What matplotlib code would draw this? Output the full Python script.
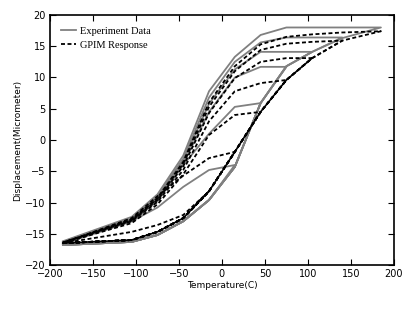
import matplotlib
matplotlib.use('Agg')
import matplotlib.pyplot as plt

# temperature grid (C), heating direction; cooling uses the reverse
temp_up = [-185, -105, -75, -45, -15, 15, 45, 75, 105, 140, 185]
temp_down = temp_up[::-1]

# experiment data (micrometer)
exp_up = [-16.8, -16.3, -15.2, -13.0, -9.6, -4.3, 5.9, 11.8, 14.1, 16.3, 18.0]
exp_down_185 = [18.0, 18.0, 18.0, 18.0, 16.8, 13.3, 7.8, -2.5, -8.7, -12.3, -16.2]
exp_down_140 = [16.4, 16.4, 16.4, 15.6, 12.5, 6.8, -3.0, -9.0, -12.5, -16.3]
exp_down_105 = [14.1, 14.1, 14.1, 11.3, 5.8, -3.3, -9.2, -12.7, -16.4]
exp_down_75 = [11.7, 11.7, 10.0, 4.5, -3.8, -9.5, -12.9, -16.5]
exp_down_45 = [5.9, 5.3, 1.0, -4.0, -9.8, -13.0, -16.6]
exp_down_15 = [-4.0, -4.8, -7.5, -10.8, -13.0, -16.6]

# GPIM response
mod_up = [-16.5, -16.0, -14.7, -12.5, -8.2, -1.9, 4.5, 9.6, 13.1, 15.9, 17.4]
mod_down_185 = [17.4, 17.2, 16.9, 16.5, 15.3, 11.8, 6.0, -3.5, -9.3, -12.7, -16.4]
mod_down_140 = [15.9, 15.7, 15.4, 14.4, 11.0, 5.3, -3.8, -9.4, -12.8, -16.4]
mod_down_105 = [13.1, 13.1, 12.5, 9.9, 4.3, -4.2, -9.6, -12.9, -16.4]
mod_down_75 = [9.6, 9.1, 7.8, 3.0, -4.8, -9.9, -13.0, -16.4]
mod_down_45 = [4.5, 4.0, 0.8, -5.5, -10.3, -13.3, -16.5]
mod_down_15 = [-1.9, -2.9, -5.7, -9.0, -12.5, -16.5]
mod_down_m15 = [-8.2, -12.0, -13.6, -14.7, -16.5]

exp_downs = [exp_down_185, exp_down_140, exp_down_105, exp_down_75, exp_down_45, exp_down_15]
mod_downs = [mod_down_185, mod_down_140, mod_down_105, mod_down_75, mod_down_45, mod_down_15, mod_down_m15]


def loop(up, down):
    # heat from -185 up to the turning point, then cool back to -185
    n = len(down) - 1
    return temp_up[:n] + temp_down[-len(down):], up[:n] + down


fig = plt.figure(figsize=(4.15, 3.12), dpi=100)
ax = fig.add_axes([0.1205, 0.1506, 0.8285, 0.8014])

grey = '#808080'
dash = (0, (2.2, 1.4))
for i, d in enumerate(exp_downs):
    x, y = loop(exp_up, d)
    ax.plot(x, y, color=grey, lw=1.3, label='Experiment Data' if i == 0 else None)

ax.plot(temp_up[:9], mod_up[:9], color='k', lw=1.2)
for i, d in enumerate(mod_downs):
    x, y = loop(mod_up, d)
    ax.plot(x, y, color='k', lw=1.3, linestyle=dash, label='GPIM Response' if i == 0 else None)

ax.set_xlim(-200, 200)
ax.set_ylim(-20, 20)
ax.set_xticks(range(-200, 201, 50))
ax.set_yticks(range(-20, 21, 5))
ax.tick_params(direction='in', top=True, right=True, length=4, width=0.8, labelsize=7, pad=3)
for s in ax.spines.values():
    s.set_linewidth(1.2)
ax.set_xlabel('Temperature(C)', fontsize=6.5, labelpad=1)
ax.set_ylabel('Displacement(Micrometer)', fontsize=6.5, labelpad=2)

ax.legend(loc='upper left', frameon=False, prop={'family': 'Liberation Serif', 'size': 7.5},
          handlelength=1.4, handletextpad=0.4, labelspacing=0.45, borderaxespad=0.7)

fig.savefig('out.png', dpi=100)
